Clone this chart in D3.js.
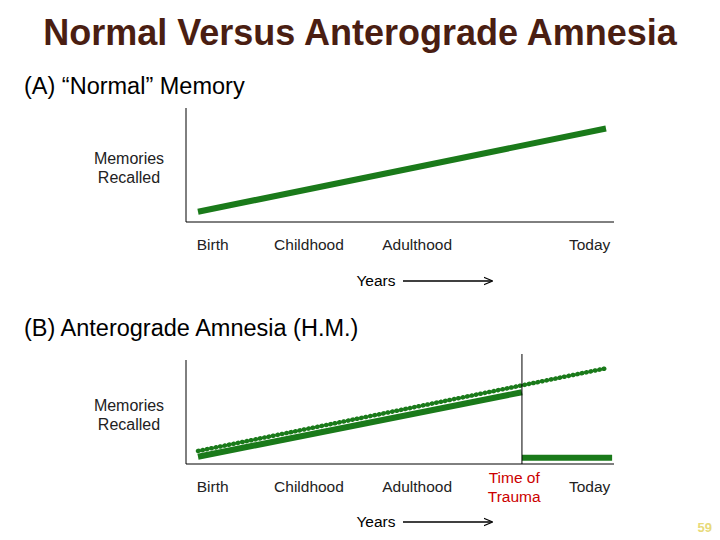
<!DOCTYPE html>
<html><head><meta charset="utf-8">
<script src="https://cdn.jsdelivr.net/npm/d3@7"></script>
<style>body{margin:0;background:#fff}text{font-family:"Liberation Sans",Arial,sans-serif}</style>
</head><body>
<svg id="c" width="720" height="540"></svg>
<script>
const stageLabels = ["Birth","Childhood","Adulthood","Today"];
const stagePos = [3.6, 27.2, 53.7, 96];
const traumaPos = 79.4;
const traumaLabelPos = 77.5;
const normalLine = [[0,9],[100,82]];
const amnesiaBefore = [[0,7],[79.4,69]];
const amnesiaAfter = [[79.4,6],[101.5,6]];
const normalDotted = [[0,12.5],[100,92]];

const svg = d3.select("#c");
const green = "#1a7a1a";
svg.append("text").attr("x",360).attr("y",45).attr("text-anchor","middle")
  .attr("font-size",36).attr("font-weight","bold").attr("fill","#4a1e12").text("Normal Versus Anterograde Amnesia");
svg.append("defs").append("marker").attr("id","ar").attr("viewBox","0 0 10 10").attr("refX",9).attr("refY",5)
  .attr("markerWidth",7).attr("markerHeight",7).attr("orient","auto")
  .append("path").attr("d","M0,1L10,5L0,9").attr("fill","none").attr("stroke","#000").attr("stroke-width",1.3);

function panel(title, titleY, yTop, yBase, yearsY, lines, trauma){
  svg.append("text").attr("x",24).attr("y",titleY).attr("font-size",23.5).text(title);
  const x = d3.scaleLinear().domain([0,100]).range([198,606]);
  const y = d3.scaleLinear().domain([0,100]).range([yBase,yTop]);
  const g = svg.append("g");
  g.append("line").attr("x1",186).attr("x2",186).attr("y1",yTop).attr("y2",yBase).attr("stroke","#000");
  g.append("line").attr("x1",186).attr("x2",614).attr("y1",yBase).attr("y2",yBase).attr("stroke","#000");
  const t = svg.append("text").attr("text-anchor","middle").attr("font-size",16).attr("fill","#222");
  const my = (yTop+yBase)/2;
  t.append("tspan").attr("x",129).attr("y",my-1).text("Memories");
  t.append("tspan").attr("x",129).attr("y",my+18).text("Recalled");
  stageLabels.forEach((s,i)=>svg.append("text").attr("x",x(stagePos[i])).attr("y",yBase+28)
    .attr("text-anchor","middle").attr("font-size",15.5).attr("fill","#222").text(s));
  const ln = d3.line().x(d=>x(d[0])).y(d=>y(d[1]));
  lines.forEach(l=>g.append("path").attr("d",ln(l.d)).attr("stroke",green).attr("fill","none")
    .attr("stroke-width",l.dot?4.5:6).attr("stroke-dasharray",l.dot?"0.5,4":null)
    .attr("stroke-linecap",l.dot?"round":"butt"));
  if(trauma){
    g.append("line").attr("x1",x(traumaPos)).attr("x2",x(traumaPos)).attr("y1",yTop-6).attr("y2",yBase).attr("stroke","#000");
    const tt = svg.append("text").attr("text-anchor","middle").attr("font-size",15.5).attr("fill","#cc0000");
    tt.append("tspan").attr("x",x(traumaLabelPos)).attr("y",yBase+19).text("Time of");
    tt.append("tspan").attr("x",x(traumaLabelPos)).attr("y",yBase+38).text("Trauma");
  }
  svg.append("text").attr("x",376).attr("y",yearsY).attr("text-anchor","middle").attr("font-size",15.5).text("Years");
  svg.append("line").attr("x1",403).attr("x2",492).attr("y1",yearsY-5).attr("y2",yearsY-5)
    .attr("stroke","#000").attr("stroke-width",1.3).attr("marker-end","url(#ar)");
}
panel("(A) \u201CNormal\u201D Memory",94,108,222,286,[{d:normalLine}],false);
panel("(B) Anterograde Amnesia (H.M.)",336,360,464,527,
  [{d:normalDotted,dot:true},{d:amnesiaBefore},{d:amnesiaAfter}],true);
svg.append("text").attr("x",712).attr("y",532).attr("text-anchor","end").attr("font-size",13)
  .attr("font-weight","bold").attr("fill","#e8da7a").text("59");
</script>
</body></html>
